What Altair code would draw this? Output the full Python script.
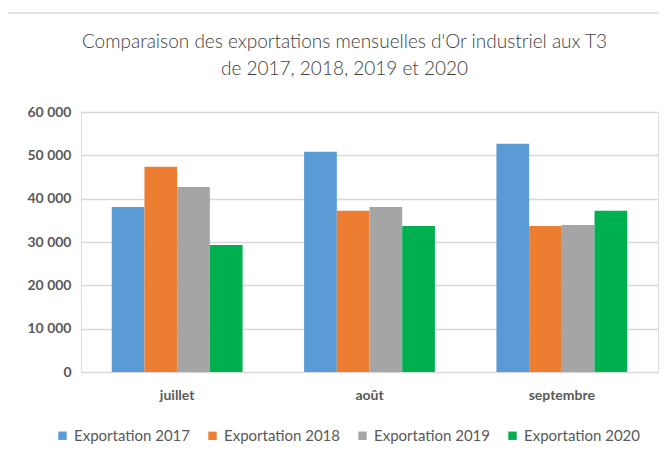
import altair as alt
import pandas as pd

months = ["juillet", "août", "septembre"]
series = ["Exportation 2017", "Exportation 2018", "Exportation 2019", "Exportation 2020"]
v2017 = [38100, 50800, 52650]
v2018 = [47350, 37200, 33700]
v2019 = [42700, 38100, 33950]
v2020 = [29300, 33700, 37200]
colors = ["#5B9BD5", "#ED7D31", "#A5A5A5", "#00B050"]
y_ticks = [0, 10000, 20000, 30000, 40000, 50000, 60000]

rows = []
for s, vals in zip(series, [v2017, v2018, v2019, v2020]):
    for m, v in zip(months, vals):
        rows.append({"mois": m, "serie": s, "valeur": v})
df = pd.DataFrame(rows)

W, H = 577, 260
FONT = "Lato"

bars = alt.Chart(df).mark_bar().encode(
    x=alt.X("mois:N", sort=months,
            scale=alt.Scale(paddingInner=0.32, paddingOuter=0.16),
            axis=alt.Axis(title=None, labelAngle=0, domain=False, ticks=False,
                          labelFont=FONT, labelFontSize=14, labelFontWeight="bold",
                          labelColor="#595959", labelPadding=16)),
    xOffset=alt.XOffset("serie:N", sort=series),
    y=alt.Y("valeur:Q", scale=alt.Scale(domain=[0, 60000]),
            axis=alt.Axis(title=None, values=y_ticks, domain=False, ticks=False,
                          gridColor="#d9d9d9", gridWidth=1.3,
                          labelExpr="replace(format(datum.value, ',d'), ',', ' ')",
                          labelFont=FONT, labelFontSize=14, labelFontWeight="bold",
                          labelColor="#595959", labelPadding=10)),
    color=alt.Color("serie:N", sort=series,
                    scale=alt.Scale(domain=series, range=colors),
                    legend=alt.Legend(title=None, orient="none", legendX=-26, legendY=316,
                                      direction="horizontal", columns=4,
                                      symbolType="square", symbolSize=70,
                                      symbolStrokeWidth=0, columnPadding=15,
                                      labelFont=FONT, labelFontSize=15,
                                      labelColor="#595959", labelOffset=4)),
)

frame = alt.Chart(pd.DataFrame({"a": [0]})).mark_rect(
    fill=None, stroke="#d9d9d9", strokeWidth=1.5
).encode(
    x=alt.value(-76), x2=alt.value(W + 40),
    y=alt.value(-99), y2=alt.value(H + 120),
)

chart = alt.layer(frame, bars).properties(
    width=W, height=H,
    title=alt.TitleParams(
        ["Comparaison des exportations mensuelles d'Or industriel aux T3",
         "de 2017, 2018, 2019 et 2020"],
        font=FONT, fontSize=19, fontWeight=300, color="#404040",
        anchor="middle", lineHeight=27, offset=-67, dx=-25,
    ),
    autosize=alt.AutoSizeParams(type="none"),
    padding={"left": 73, "top": 104, "right": 1, "bottom": 79},
).configure_view(stroke=None).configure(background="white")

chart.save("out.html", embed_options={"renderer": "svg", "actions": False})
